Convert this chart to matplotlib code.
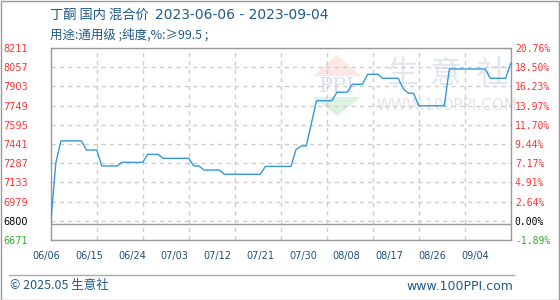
import numpy as np
import matplotlib
matplotlib.use("Agg")
import matplotlib.pyplot as plt
from matplotlib.patches import Polygon, Rectangle
from matplotlib.lines import Line2D
import matplotlib.transforms as mtransforms

plt.rcParams['font.family'] = ['Noto Sans CJK SC', 'DejaVu Sans']

# ---------------- data ----------------
title_product = "丁酮 国内 混合价"
title_dates = "2023-06-06 - 2023-09-04"
title_line2 = "用途:通用级 ;纯度,%:≥99.5 ;"
x_labels = ["06/06", "06/15", "06/24", "07/03", "07/12", "07/21",
            "07/30", "08/08", "08/17", "08/26", "09/04"]
left_labels = ["6671", "6800", "6979", "7133", "7287", "7441",
               "7595", "7749", "7903", "8057", "8211"]
right_labels = ["-1.89%", "0.00%", "2.64%", "4.91%", "7.17%", "9.44%",
                "11.70%", "13.97%", "16.23%", "18.50%", "20.76%"]
base_price = 6800
# daily prices, 2023-06-06 .. 2023-09-04
prices = [6800, 7290, 7466, 7466, 7466, 7466, 7466, 7393, 7393, 7393,
          7265, 7265, 7265, 7265, 7294, 7294, 7294, 7294, 7294, 7358,
          7358, 7358, 7326, 7326, 7326, 7326, 7326, 7326, 7265, 7265,
          7232, 7232, 7232, 7232, 7198, 7198, 7198, 7198, 7198, 7198,
          7198, 7198, 7261, 7261, 7261, 7261, 7261, 7261, 7397, 7425,
          7425, 7605, 7788, 7788, 7788, 7788, 7856, 7856, 7856, 7920,
          7920, 7920, 8000, 8000, 8000, 7968, 7968, 7968, 7968, 7882,
          7848, 7848, 7748, 7748, 7748, 7748, 7748, 7748, 8043, 8043,
          8043, 8043, 8043, 8043, 8043, 8043, 7968, 7968, 7968, 7968,
          8088]
y_min, y_max = 6671, 8211

# ---------------- figure ----------------
W, H = 560, 300
fig = plt.figure(figsize=(W / 100, H / 100), dpi=100)
fig.patch.set_facecolor("white")

ax = fig.add_axes([50.7 / W, 60 / H, 460 / W, 192 / H])
days = np.arange(len(prices))
ax.set_xlim(0, len(prices) - 1)
ax.set_ylim(y_min, y_max)


def fx(px):
    return px / W


def fy(py):
    return 1 - py / H


# watermark
wm = fig.transFigure
ax.add_patch(Polygon([(fx(313), fy(76)), (fx(337), fy(55)), (fx(361), fy(76))],
                     closed=True, transform=wm, facecolor="#fce6e6",
                     edgecolor="none", zorder=0))
ax.add_patch(Polygon([(fx(313), fy(97)), (fx(361), fy(97)), (fx(337), fy(116))],
                     closed=True, transform=wm, facecolor="#def2e1",
                     edgecolor="none", zorder=0))
ax.text(fx(337), fy(86), "PPI", transform=wm, ha="center", va="center",
        fontsize=15, color="#d9dfec", family="DejaVu Serif", zorder=0.5)
for ch, cx in zip("生意社", [402, 446, 492]):
    ax.text(fx(cx), fy(74), ch, transform=wm, ha="center", va="center",
            fontsize=23, color="#e2e6ef", zorder=0.5)
ax.text(fx(447), fy(105), "WWW.100PPI.COM", transform=wm, ha="center",
        va="center", fontsize=11, color="#e2e4ec", family="DejaVu Sans",
        zorder=0.5)

# y ticks / grid
levels = np.linspace(y_min, y_max, len(left_labels))
ax.set_yticks(levels)
ax.set_yticklabels(left_labels, family="DejaVu Sans", fontsize=7)
ax.tick_params(axis="y", length=0, pad=16.5)
for lbl in ax.get_yticklabels():
    lbl.set_color("#ff3333")
ax.get_yticklabels()[0].set_color("#33aa33")
ax.get_yticklabels()[1].set_color("#000000")

# vertical grid: 10 equal divisions
n_div = 10
step = (len(prices) - 1) / n_div
ax.set_xticks(np.arange(1, n_div) * step)
ax.set_xticklabels([])
ax.tick_params(axis="x", which="both", length=0)

ax.grid(axis="both", linestyle=(0, (3, 3)), color="#cccccc", lw=1)
ax.set_axisbelow(True)

# x labels as text (evenly spread under the axis)
trans = mtransforms.blended_transform_factory(ax.transData, ax.transAxes)
lbl_pos = -0.9 + np.arange(len(x_labels)) * 8.39
for pos, t in zip(lbl_pos, x_labels):
    ax.text(pos, -0.085, t, transform=trans, ha="center", va="center",
            fontsize=7, color="#1f4f7f", family="DejaVu Sans", clip_on=False)

ax.axhline(base_price, color="#999999", lw=1, zorder=1.5)

ax.plot(days, prices, color="#3598dc", lw=1.0, zorder=3)

for s in ax.spines.values():
    s.set_color("#999999")
    s.set_linewidth(1)

# right axis
ax2 = ax.twinx()
ax2.set_ylim(y_min, y_max)
ax2.set_yticks(levels)
ax2.set_yticklabels(right_labels, family="DejaVu Sans Mono", fontsize=7)
ax2.tick_params(axis="y", length=0, pad=3)
for lbl in ax2.get_yticklabels():
    lbl.set_color("#ff3333")
ax2.get_yticklabels()[0].set_color("#33aa33")
ax2.get_yticklabels()[1].set_color("#000000")
for s in ax2.spines.values():
    s.set_visible(False)

# titles
fig.text(fx(50), fy(15), title_product, fontsize=9.5, color="#1f5a8c",
         va="center")
fig.text(fx(155), fy(15), title_dates, fontsize=10, color="#1f5a8c",
         va="center", family="DejaVu Sans")
fig.text(fx(50), fy(35), title_line2, fontsize=9, color="#1f5a8c", va="center")

# footer
fig.add_artist(Line2D([fx(9), fx(514)], [fy(275), fy(275)], color="#aaaaaa",
                      lw=1, transform=fig.transFigure))
fig.text(fx(10), fy(286), "© 2025.05 生意社", fontsize=9, color="#1f5a8c",
         va="center", ha="left")
fig.text(fx(513), fy(286), "www.100PPI.com", fontsize=9, color="#1f5a8c",
         va="center", ha="right", family="DejaVu Sans")

# outer frame
fig.add_artist(Rectangle((0.5 / W, 0.5 / H), 1 - 1.5 / W, 1 - 1.5 / H,
                         transform=fig.transFigure, fill=False,
                         edgecolor="#999999", lw=1))

fig.savefig("out.png", dpi=100)
